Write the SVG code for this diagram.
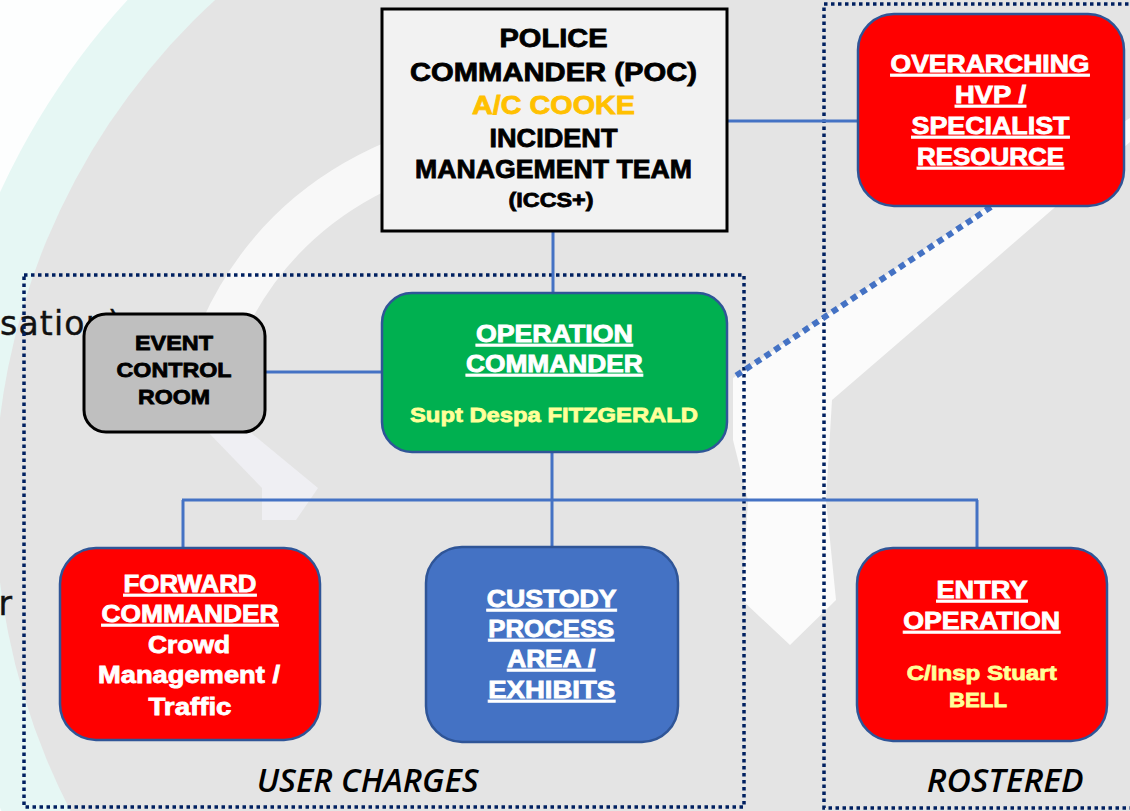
<svg xmlns="http://www.w3.org/2000/svg" width="1130" height="811" viewBox="0 0 1130 811">
<defs>
<style>
.t{font-family:"Liberation Sans",Arial,sans-serif;font-weight:bold;text-anchor:middle;stroke-width:0.8;paint-order:stroke}
.blk{fill:#000;stroke:#000}
.wht{fill:#fff;stroke:#fff}
.u{text-decoration:underline}
.yel{fill:#FFFF99;stroke:#FFFF99}
.gold{fill:#FFC000;stroke:#FFC000}
.lbl{font-family:"Open Sans","DejaVu Sans",sans-serif;font-style:italic;font-weight:600;font-size:32px;fill:#000}
.bgtxt{font-family:"DejaVu Sans",sans-serif;font-size:33px;fill:#111;stroke:#111;stroke-width:0.4}
.node{stroke:#2F5597;stroke-width:2.5}
.conn{fill:none;stroke:#4472C4;stroke-width:3}
.zone{fill:none;stroke:#002060;stroke-width:3.5;stroke-dasharray:3.5 3.5}
</style>
</defs>

<!-- background watermark -->
<g id="background">
<rect x="0" y="0" width="1130" height="811" fill="#fdfefe"/>
<circle cx="673" cy="500" r="740" fill="#e6f7f4"/>
<circle cx="673" cy="500" r="678" fill="#e4e4e4"/>
<path d="M 470 138 Q 290 180 222 330" fill="none" stroke="#f8f8f8" stroke-width="44"/>
<path d="M 990 205 L 1130 118 L 1130 142 Q 960 290 832 400 L 826 500 L 836 600 L 790 645 L 742 600 L 748 500 L 733 440 L 733 378 Z" fill="#fbfbfb"/>
<path d="M 208 432 L 250 432 L 318 488 L 296 520 L 262 520 L 262 488 Z" fill="#efeff3"/>
<text class="bgtxt" x="0" y="335" letter-spacing="1.2">sation)</text>
<text class="bgtxt" x="12" y="615" text-anchor="end">r</text>
</g>

<!-- zones -->
<g id="zone-user-charges">
<rect class="zone" x="24" y="275" width="720" height="532"/>
<text class="lbl" x="256.7" y="791.7" textLength="222" lengthAdjust="spacingAndGlyphs">USER CHARGES</text>
</g>
<g id="zone-rostered">
<rect class="zone" x="824" y="4" width="330" height="804"/>
<text class="lbl" x="926.7" y="791.7" textLength="157" lengthAdjust="spacingAndGlyphs">ROSTERED</text>
</g>

<!-- connectors -->
<g id="connectors">
<path class="conn" d="M727 121 H858"/>
<path class="conn" d="M553 231 V293"/>
<path class="conn" d="M265 372 H382"/>
<path class="conn" d="M552 452 V500"/>
<path class="conn" d="M182 500 H978"/>
<path class="conn" d="M183 500 V548"/>
<path class="conn" d="M552 500 V547"/>
<path class="conn" d="M977 500 V548"/>
<path d="M991 207 L734 377" fill="none" stroke="#4472C4" stroke-width="6" stroke-dasharray="6.5 5"/>
</g>

<!-- POC -->
<g id="police-commander">
<rect x="382" y="9" width="345" height="222" fill="#F2F2F2" stroke="#000" stroke-width="3"/>
<text class="t blk" x="553.5" y="47" font-size="26" textLength="108" lengthAdjust="spacingAndGlyphs">POLICE</text>
<text class="t blk" x="553.5" y="81" font-size="26" textLength="287" lengthAdjust="spacingAndGlyphs">COMMANDER (POC)</text>
<text class="t gold" x="553.5" y="114" font-size="26" textLength="163" lengthAdjust="spacingAndGlyphs">A/C COOKE</text>
<text class="t blk" x="553.5" y="147" font-size="26" textLength="128" lengthAdjust="spacingAndGlyphs">INCIDENT</text>
<text class="t blk" x="553.5" y="178" font-size="26" textLength="277" lengthAdjust="spacingAndGlyphs">MANAGEMENT TEAM</text>
<text class="t blk" x="551" y="207" font-size="20" textLength="85" lengthAdjust="spacingAndGlyphs">(ICCS+)</text>
</g>

<!-- Overarching -->
<g id="overarching-hvp">
<rect class="node" x="858" y="14" width="266" height="192" rx="36" fill="#FF0000"/>
<text class="t wht u" x="990" y="72" font-size="23" textLength="199" lengthAdjust="spacingAndGlyphs">OVERARCHING</text>
<text class="t wht u" x="990.5" y="103" font-size="23" textLength="71" lengthAdjust="spacingAndGlyphs">HVP /</text>
<text class="t wht u" x="990.5" y="134" font-size="23" textLength="158" lengthAdjust="spacingAndGlyphs">SPECIALIST</text>
<text class="t wht u" x="990.5" y="165" font-size="23" textLength="147" lengthAdjust="spacingAndGlyphs">RESOURCE</text>
</g>

<!-- Event control room -->
<g id="event-control-room">
<rect x="84" y="314" width="181" height="118" rx="22" fill="#BFBFBF" stroke="#000" stroke-width="3"/>
<text class="t blk" x="174" y="350" font-size="21" textLength="78" lengthAdjust="spacingAndGlyphs">EVENT</text>
<text class="t blk" x="174" y="377" font-size="21" textLength="115" lengthAdjust="spacingAndGlyphs">CONTROL</text>
<text class="t blk" x="174" y="404" font-size="21" textLength="72" lengthAdjust="spacingAndGlyphs">ROOM</text>
</g>

<!-- Operation commander -->
<g id="operation-commander">
<rect class="node" x="382" y="293" width="345" height="159" rx="30" fill="#00B050"/>
<text class="t wht u" x="554.4" y="342" font-size="23" textLength="157" lengthAdjust="spacingAndGlyphs">OPERATION</text>
<text class="t wht u" x="554.4" y="372" font-size="23" textLength="177" lengthAdjust="spacingAndGlyphs">COMMANDER</text>
<text class="t yel" x="554" y="422" font-size="21" textLength="288" lengthAdjust="spacingAndGlyphs">Supt Despa FITZGERALD</text>
</g>

<!-- Forward commander -->
<g id="forward-commander">
<rect class="node" x="60" y="548" width="260" height="192" rx="36" fill="#FF0000"/>
<text class="t wht u" x="190" y="592" font-size="23" textLength="133" lengthAdjust="spacingAndGlyphs">FORWARD</text>
<text class="t wht u" x="190" y="622" font-size="23" textLength="177" lengthAdjust="spacingAndGlyphs">COMMANDER</text>
<text class="t wht" x="189" y="653" font-size="23" textLength="82" lengthAdjust="spacingAndGlyphs">Crowd</text>
<text class="t wht" x="189" y="683" font-size="23" textLength="182" lengthAdjust="spacingAndGlyphs">Management /</text>
<text class="t wht" x="190" y="715" font-size="23" textLength="83" lengthAdjust="spacingAndGlyphs">Traffic</text>
</g>

<!-- Custody -->
<g id="custody-process">
<rect class="node" x="426" y="547" width="252" height="195" rx="36" fill="#4472C4"/>
<text class="t wht u" x="551.7" y="607" font-size="23" textLength="130" lengthAdjust="spacingAndGlyphs">CUSTODY</text>
<text class="t wht u" x="551.3" y="637" font-size="23" textLength="126" lengthAdjust="spacingAndGlyphs">PROCESS</text>
<text class="t wht u" x="551.2" y="667" font-size="23" textLength="88" lengthAdjust="spacingAndGlyphs">AREA /</text>
<text class="t wht u" x="551.7" y="698" font-size="23" textLength="127" lengthAdjust="spacingAndGlyphs">EXHIBITS</text>
</g>

<!-- Entry operation -->
<g id="entry-operation">
<rect class="node" x="857" y="548" width="250" height="193" rx="36" fill="#FF0000"/>
<text class="t wht u" x="982" y="598" font-size="23" textLength="91" lengthAdjust="spacingAndGlyphs">ENTRY</text>
<text class="t wht u" x="981.7" y="629" font-size="23" textLength="157" lengthAdjust="spacingAndGlyphs">OPERATION</text>
<text class="t yel" x="981.7" y="680" font-size="21" textLength="150" lengthAdjust="spacingAndGlyphs">C/Insp Stuart</text>
<text class="t yel" x="978" y="707" font-size="21" textLength="58" lengthAdjust="spacingAndGlyphs">BELL</text>
</g>
</svg>
